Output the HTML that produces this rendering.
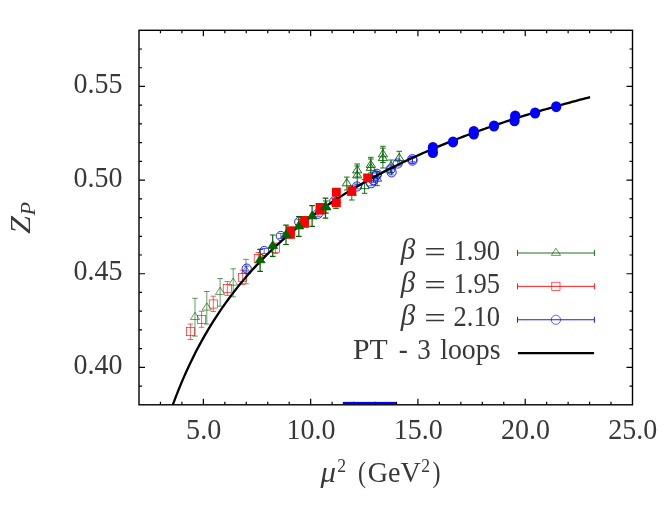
<!DOCTYPE html>
<html><head><meta charset="utf-8"><title>Z_P</title>
<style>
html,body{margin:0;padding:0;background:#fff;overflow:hidden;}
svg{display:block;will-change:transform;}
text{font-family:"Liberation Serif",serif;fill:#383838;}
</style></head>
<body>
<svg width="671" height="506" viewBox="0 0 671 506">
<rect width="671" height="506" fill="#fff"/>
<g>
<path d="M195.0,298.3V336.1M192.2,298.3H197.8M192.2,336.1H197.8" stroke="#006400" stroke-width="0.62" fill="none"/>
<path d="M195.0,312.3L199.6,319.5H190.4Z" fill="none" stroke="#006400" stroke-width="0.62"/>
<path d="M206.8,291.5V324.1M204.0,291.5H209.6M204.0,324.1H209.6" stroke="#006400" stroke-width="0.62" fill="none"/>
<path d="M206.8,302.9L211.4,310.1H202.2Z" fill="none" stroke="#006400" stroke-width="0.62"/>
<path d="M220.1,278.5V306.2M217.3,278.5H222.9M217.3,306.2H222.9" stroke="#006400" stroke-width="0.62" fill="none"/>
<path d="M220.1,287.2L224.7,294.4H215.5Z" fill="none" stroke="#006400" stroke-width="0.62"/>
<path d="M233.2,268.8V296.9M230.4,268.8H236.0M230.4,296.9H236.0" stroke="#006400" stroke-width="0.62" fill="none"/>
<path d="M233.2,278.0L237.8,285.2H228.6Z" fill="none" stroke="#006400" stroke-width="0.62"/>
<path d="M246.0,259.4V283.8M243.2,259.4H248.8M243.2,283.8H248.8" stroke="#006400" stroke-width="0.62" fill="none"/>
<path d="M246.0,266.2L250.6,273.4H241.4Z" fill="none" stroke="#006400" stroke-width="0.62"/>
<path d="M336.0,192.5V208.5M333.2,192.5H338.8M333.2,208.5H338.8" stroke="#006400" stroke-width="0.9" fill="none"/>
<path d="M336.0,195.7L340.6,202.9H331.4Z" fill="none" stroke="#006400" stroke-width="0.9"/>
<path d="M346.8,177.1V190.0M344.0,177.1H349.6M344.0,190.0H349.6" stroke="#006400" stroke-width="0.9" fill="none"/>
<path d="M346.8,178.6L351.4,185.8H342.2Z" fill="none" stroke="#006400" stroke-width="0.9"/>
<path d="M351.8,186.0V200.0M349.0,186.0H354.6M349.0,200.0H354.6" stroke="#006400" stroke-width="0.9" fill="none"/>
<path d="M351.8,188.2L356.4,195.4H347.2Z" fill="none" stroke="#006400" stroke-width="0.9"/>
<path d="M357.2,164.0V177.0M354.4,164.0H360.0M354.4,177.0H360.0" stroke="#006400" stroke-width="0.9" fill="none"/>
<path d="M357.2,165.7L361.8,172.9H352.6Z" fill="none" stroke="#006400" stroke-width="0.9"/>
<path d="M357.2,166.0V185.0M354.4,166.0H360.0M354.4,185.0H360.0" stroke="#006400" stroke-width="0.9" fill="none"/>
<path d="M357.2,170.7L361.8,177.9H352.6Z" fill="none" stroke="#006400" stroke-width="0.9"/>
<path d="M364.6,179.5V193.3M361.8,179.5H367.4M361.8,193.3H367.4" stroke="#006400" stroke-width="0.9" fill="none"/>
<path d="M364.6,181.5L369.2,188.7H360.0Z" fill="none" stroke="#006400" stroke-width="0.9"/>
<path d="M370.8,157.3V173.0M368.0,157.3H373.6M368.0,173.0H373.6" stroke="#006400" stroke-width="0.9" fill="none"/>
<path d="M370.8,160.2L375.4,167.4H366.2Z" fill="none" stroke="#006400" stroke-width="0.9"/>
<path d="M370.8,159.0V176.5M368.0,159.0H373.6M368.0,176.5H373.6" stroke="#006400" stroke-width="0.9" fill="none"/>
<path d="M370.8,163.2L375.4,170.4H366.2Z" fill="none" stroke="#006400" stroke-width="0.9"/>
<path d="M377.1,172.0V185.7M374.3,172.0H379.9M374.3,185.7H379.9" stroke="#006400" stroke-width="0.9" fill="none"/>
<path d="M377.1,174.0L381.7,181.2H372.5Z" fill="none" stroke="#006400" stroke-width="0.9"/>
<path d="M382.9,148.2V168.0M380.1,148.2H385.7M380.1,168.0H385.7" stroke="#006400" stroke-width="0.9" fill="none"/>
<path d="M382.9,153.4L387.5,160.6H378.3Z" fill="none" stroke="#006400" stroke-width="0.9"/>
<path d="M382.9,146.3V162.5M380.1,146.3H385.7M380.1,162.5H385.7" stroke="#006400" stroke-width="0.9" fill="none"/>
<path d="M382.9,149.6L387.5,156.8H378.3Z" fill="none" stroke="#006400" stroke-width="0.9"/>
<path d="M391.0,160.0V172.5M388.2,160.0H393.8M388.2,172.5H393.8" stroke="#006400" stroke-width="0.9" fill="none"/>
<path d="M391.0,161.5L395.6,168.7H386.4Z" fill="none" stroke="#006400" stroke-width="0.9"/>
<path d="M399.2,151.3V165.0M396.4,151.3H402.0M396.4,165.0H402.0" stroke="#006400" stroke-width="0.9" fill="none"/>
<path d="M399.2,153.4L403.8,160.6H394.6Z" fill="none" stroke="#006400" stroke-width="0.9"/>
<path d="M190.4,324.0V339.5M187.6,324.0H193.2M187.6,339.5H193.2" stroke="#ff0000" stroke-width="0.62" fill="none"/>
<rect x="186.3" y="327.5" width="8.2" height="8.2" fill="none" stroke="#ff0000" stroke-width="0.62"/>
<path d="M201.6,311.3V327.3M198.8,311.3H204.4M198.8,327.3H204.4" stroke="#ff0000" stroke-width="0.62" fill="none"/>
<rect x="197.5" y="315.3" width="8.2" height="8.2" fill="none" stroke="#ff0000" stroke-width="0.62"/>
<path d="M213.3,296.2V311.5M210.5,296.2H216.1M210.5,311.5H216.1" stroke="#ff0000" stroke-width="0.62" fill="none"/>
<rect x="209.2" y="299.9" width="8.2" height="8.2" fill="none" stroke="#ff0000" stroke-width="0.62"/>
<path d="M227.3,281.5V295.4M224.5,281.5H230.1M224.5,295.4H230.1" stroke="#ff0000" stroke-width="0.62" fill="none"/>
<rect x="223.2" y="284.4" width="8.2" height="8.2" fill="none" stroke="#ff0000" stroke-width="0.62"/>
<path d="M242.6,270.3V284.4M239.8,270.3H245.4M239.8,284.4H245.4" stroke="#ff0000" stroke-width="0.62" fill="none"/>
<rect x="238.5" y="273.3" width="8.2" height="8.2" fill="none" stroke="#ff0000" stroke-width="0.62"/>
<path d="M258.3,252.5V264.5M255.5,252.5H261.1M255.5,264.5H261.1" stroke="#ff0000" stroke-width="0.62" fill="none"/>
<rect x="254.2" y="254.4" width="8.2" height="8.2" fill="none" stroke="#ff0000" stroke-width="0.62"/>
<path d="M275.4,243.0V253.5M272.6,243.0H278.2M272.6,253.5H278.2" stroke="#ff0000" stroke-width="0.62" fill="none"/>
<rect x="271.3" y="244.1" width="8.2" height="8.2" fill="none" stroke="#ff0000" stroke-width="0.62"/>
<path d="M246.7,266.1V271.1M243.9,266.1H249.5M243.9,271.1H249.5" stroke="#0000ff" stroke-width="0.62" fill="none"/>
<circle cx="246.7" cy="268.6" r="4.6" fill="none" stroke="#0000ff" stroke-width="0.85"/>
<path d="M264.2,248.5V253.5M261.4,248.5H267.0M261.4,253.5H267.0" stroke="#0000ff" stroke-width="0.62" fill="none"/>
<circle cx="264.2" cy="251.0" r="4.6" fill="none" stroke="#0000ff" stroke-width="0.85"/>
<path d="M280.8,233.5V238.5M278.0,233.5H283.6M278.0,238.5H283.6" stroke="#0000ff" stroke-width="0.62" fill="none"/>
<circle cx="280.8" cy="236.0" r="4.6" fill="none" stroke="#0000ff" stroke-width="0.85"/>
<path d="M299.2,219.4V224.4M296.4,219.4H302.0M296.4,224.4H302.0" stroke="#0000ff" stroke-width="0.62" fill="none"/>
<circle cx="299.2" cy="221.9" r="4.6" fill="none" stroke="#0000ff" stroke-width="0.85"/>
<path d="M317.9,211.3V216.3M315.1,211.3H320.7M315.1,216.3H320.7" stroke="#0000ff" stroke-width="0.62" fill="none"/>
<circle cx="317.9" cy="213.8" r="4.6" fill="none" stroke="#0000ff" stroke-width="0.85"/>
<path d="M334.2,198.9V203.9M331.4,198.9H337.0M331.4,203.9H337.0" stroke="#0000ff" stroke-width="0.62" fill="none"/>
<circle cx="334.2" cy="201.4" r="4.6" fill="none" stroke="#0000ff" stroke-width="0.85"/>
<path d="M357.0,184.0V189.0M354.2,184.0H359.8M354.2,189.0H359.8" stroke="#0000ff" stroke-width="0.62" fill="none"/>
<circle cx="357.0" cy="186.5" r="4.6" fill="none" stroke="#0000ff" stroke-width="0.85"/>
<path d="M371.2,180.7V185.7M368.4,180.7H374.0M368.4,185.7H374.0" stroke="#0000ff" stroke-width="0.62" fill="none"/>
<circle cx="371.2" cy="183.2" r="4.6" fill="none" stroke="#0000ff" stroke-width="0.85"/>
<path d="M373.5,177.6V182.6M370.7,177.6H376.3M370.7,182.6H376.3" stroke="#0000ff" stroke-width="0.62" fill="none"/>
<circle cx="373.5" cy="180.1" r="4.6" fill="none" stroke="#0000ff" stroke-width="0.85"/>
<path d="M376.4,173.1V178.1M373.6,173.1H379.2M373.6,178.1H379.2" stroke="#0000ff" stroke-width="0.62" fill="none"/>
<circle cx="376.4" cy="175.6" r="4.6" fill="none" stroke="#0000ff" stroke-width="0.85"/>
<path d="M377.0,171.3V176.3M374.2,171.3H379.8M374.2,176.3H379.8" stroke="#0000ff" stroke-width="0.62" fill="none"/>
<circle cx="377.0" cy="173.8" r="4.6" fill="none" stroke="#0000ff" stroke-width="0.85"/>
<path d="M391.6,169.9V174.9M388.8,169.9H394.4M388.8,174.9H394.4" stroke="#0000ff" stroke-width="0.62" fill="none"/>
<circle cx="391.6" cy="172.4" r="4.6" fill="none" stroke="#0000ff" stroke-width="0.85"/>
<path d="M390.5,166.9V171.9M387.7,166.9H393.3M387.7,171.9H393.3" stroke="#0000ff" stroke-width="0.62" fill="none"/>
<circle cx="390.5" cy="169.4" r="4.6" fill="none" stroke="#0000ff" stroke-width="0.85"/>
<path d="M397.7,161.0V166.0M394.9,161.0H400.5M394.9,166.0H400.5" stroke="#0000ff" stroke-width="0.62" fill="none"/>
<circle cx="397.7" cy="163.5" r="4.6" fill="none" stroke="#0000ff" stroke-width="0.85"/>
<path d="M412.3,156.7V161.7M409.5,156.7H415.1M409.5,161.7H415.1" stroke="#0000ff" stroke-width="0.62" fill="none"/>
<circle cx="412.3" cy="159.2" r="4.6" fill="none" stroke="#0000ff" stroke-width="0.85"/>
<path d="M412.5,158.1V163.1M409.7,158.1H415.3M409.7,163.1H415.3" stroke="#0000ff" stroke-width="0.62" fill="none"/>
<circle cx="412.5" cy="160.6" r="4.6" fill="none" stroke="#0000ff" stroke-width="0.85"/>
<path d="M172.81,404.80 L173.81,402.09 L176.28,395.59 L178.74,389.36 L181.20,383.36 L183.67,377.59 L186.13,372.03 L188.59,366.66 L191.06,361.47 L193.52,356.46 L195.98,351.60 L198.45,346.90 L200.91,342.34 L203.37,337.91 L205.84,333.62 L208.30,329.44 L210.76,325.38 L213.22,321.42 L215.69,317.57 L218.15,313.82 L220.61,310.17 L223.08,306.60 L225.54,303.12 L228.00,299.72 L230.47,296.40 L232.93,293.15 L235.39,289.98 L237.86,286.88 L240.32,283.84 L242.78,280.87 L245.25,277.96 L247.71,275.10 L250.17,272.31 L252.64,269.57 L255.10,266.88 L257.56,264.24 L260.03,261.66 L262.49,259.12 L264.95,256.62 L267.42,254.17 L269.88,251.77 L272.34,249.40 L274.81,247.08 L277.27,244.80 L279.73,242.55 L282.20,240.34 L284.66,238.17 L287.12,236.03 L289.59,233.92 L292.05,231.85 L294.51,229.81 L296.97,227.80 L299.44,225.82 L301.90,223.87 L304.36,221.95 L306.83,220.06 L309.29,218.19 L311.75,216.35 L314.22,214.54 L316.68,212.75 L319.14,210.99 L321.61,209.25 L324.07,207.53 L326.53,205.84 L329.00,204.16 L331.46,202.51 L333.92,200.88 L336.39,199.28 L338.85,197.69 L341.31,196.12 L343.78,194.57 L346.24,193.04 L348.70,191.53 L351.17,190.04 L353.63,188.57 L356.09,187.11 L358.56,185.67 L361.02,184.25 L363.48,182.84 L365.95,181.45 L368.41,180.07 L370.87,178.71 L373.34,177.37 L375.80,176.04 L378.26,174.73 L380.72,173.43 L383.19,172.14 L385.65,170.87 L388.11,169.61 L390.58,168.36 L393.04,167.13 L395.50,165.91 L397.97,164.70 L400.43,163.51 L402.89,162.32 L405.36,161.15 L407.82,159.99 L410.28,158.85 L412.75,157.71 L415.21,156.59 L417.67,155.47 L420.14,154.37 L422.60,153.28 L425.06,152.19 L427.53,151.12 L429.99,150.06 L432.45,149.01 L434.92,147.97 L437.38,146.93 L439.84,145.91 L442.31,144.90 L444.77,143.89 L447.23,142.90 L449.70,141.91 L452.16,140.93 L454.62,139.97 L457.09,139.01 L459.55,138.05 L462.01,137.11 L464.47,136.17 L466.94,135.25 L469.40,134.33 L471.86,133.42 L474.33,132.51 L476.79,131.62 L479.25,130.73 L481.72,129.85 L484.18,128.97 L486.64,128.11 L489.11,127.25 L491.57,126.40 L494.03,125.55 L496.50,124.71 L498.96,123.88 L501.42,123.05 L503.89,122.24 L506.35,121.42 L508.81,120.62 L511.28,119.82 L513.74,119.03 L516.20,118.24 L518.67,117.46 L521.13,116.68 L523.59,115.91 L526.06,115.15 L528.52,114.39 L530.98,113.64 L533.45,112.90 L535.91,112.16 L538.37,111.42 L540.84,110.69 L543.30,109.97 L545.76,109.25 L548.22,108.54 L550.69,107.83 L553.15,107.13 L555.61,106.43 L558.08,105.74 L560.54,105.05 L563.00,104.37 L565.47,103.69 L567.93,103.02 L570.39,102.35 L572.86,101.69 L575.32,101.03 L577.78,100.37 L580.25,99.72 L582.71,99.08 L585.17,98.44 L587.64,97.80 L590.10,97.17" fill="none" stroke="#000" stroke-width="2.3" stroke-linejoin="round"/>
<ellipse cx="432.9" cy="147.4" rx="5.15" ry="5.5" fill="#0000ff"/>
<ellipse cx="432.9" cy="152.6" rx="5.15" ry="5.5" fill="#0000ff"/>
<ellipse cx="453.0" cy="141.9" rx="5.15" ry="5.5" fill="#0000ff"/>
<ellipse cx="473.8" cy="131.5" rx="5.15" ry="5.5" fill="#0000ff"/>
<ellipse cx="473.8" cy="134.1" rx="5.15" ry="5.5" fill="#0000ff"/>
<ellipse cx="494.0" cy="126.0" rx="5.15" ry="5.5" fill="#0000ff"/>
<ellipse cx="515.2" cy="115.9" rx="5.15" ry="5.5" fill="#0000ff"/>
<ellipse cx="514.5" cy="120.8" rx="5.15" ry="5.5" fill="#0000ff"/>
<ellipse cx="535.1" cy="113.0" rx="5.15" ry="5.5" fill="#0000ff"/>
<ellipse cx="556.2" cy="106.7" rx="5.15" ry="5.5" fill="#0000ff"/>
<rect x="286.0" y="226.3" width="8.8" height="8.8" fill="#ff0000"/>
<rect x="286.0" y="230.0" width="8.8" height="8.8" fill="#ff0000"/>
<rect x="300.1" y="216.0" width="8.8" height="8.8" fill="#ff0000"/>
<rect x="300.1" y="219.0" width="8.8" height="8.8" fill="#ff0000"/>
<rect x="315.6" y="203.0" width="8.8" height="8.8" fill="#ff0000"/>
<rect x="315.9" y="205.8" width="8.8" height="8.8" fill="#ff0000"/>
<rect x="332.0" y="187.8" width="8.8" height="8.8" fill="#ff0000"/>
<rect x="332.0" y="198.4" width="8.8" height="8.8" fill="#ff0000"/>
<rect x="347.4" y="186.4" width="8.8" height="8.8" fill="#ff0000"/>
<rect x="363.2" y="173.5" width="8.8" height="8.8" fill="#ff0000"/>
<path d="M260.1,249.4V271.3M257.3,249.4H262.9M257.3,271.3H262.9" stroke="#006400" stroke-width="1.2" fill="none"/>
<path d="M260.1,255.0L265.1,262.8H255.1Z" fill="#006400" stroke="#006400" stroke-width="0.8"/>
<path d="M272.7,235.0V256.3M269.9,235.0H275.5M269.9,256.3H275.5" stroke="#006400" stroke-width="1.2" fill="none"/>
<path d="M272.7,240.8L277.7,248.6H267.7Z" fill="#006400" stroke="#006400" stroke-width="0.8"/>
<path d="M286.0,225.1V244.5M283.2,225.1H288.8M283.2,244.5H288.8" stroke="#006400" stroke-width="1.2" fill="none"/>
<path d="M286.0,229.8L291.0,237.6H281.0Z" fill="#006400" stroke="#006400" stroke-width="0.8"/>
<path d="M298.8,216.5V236.3M296.0,216.5H301.6M296.0,236.3H301.6" stroke="#006400" stroke-width="1.2" fill="none"/>
<path d="M298.8,221.1L303.8,228.9H293.8Z" fill="#006400" stroke="#006400" stroke-width="0.8"/>
<path d="M312.1,205.6V226.3M309.3,205.6H314.9M309.3,226.3H314.9" stroke="#006400" stroke-width="1.2" fill="none"/>
<path d="M312.1,211.1L317.1,218.9H307.1Z" fill="#006400" stroke="#006400" stroke-width="0.8"/>
<path d="M325.5,198.1V218.2M322.7,198.1H328.3M322.7,218.2H328.3" stroke="#006400" stroke-width="1.2" fill="none"/>
<path d="M325.5,201.8L330.5,209.6H320.5Z" fill="#006400" stroke="#006400" stroke-width="0.8"/>
<path d="M325.9,201.0V213.2M323.1,201.0H328.7M323.1,213.2H328.7" stroke="#006400" stroke-width="1.2" fill="none"/>
<path d="M325.9,202.0L330.9,209.8H320.9Z" fill="#006400" stroke="#006400" stroke-width="0.8"/>
</g>
<g>
<path d="M160.46,404.8v-3.0M160.46,30.3v3.0M181.91,404.8v-3.0M181.91,30.3v3.0M203.37,404.8v-6.0M203.37,30.3v6.0M224.83,404.8v-3.0M224.83,30.3v3.0M246.28,404.8v-3.0M246.28,30.3v3.0M267.74,404.8v-3.0M267.74,30.3v3.0M289.20,404.8v-3.0M289.20,30.3v3.0M310.65,404.8v-6.0M310.65,30.3v6.0M332.11,404.8v-3.0M332.11,30.3v3.0M353.57,404.8v-3.0M353.57,30.3v3.0M375.02,404.8v-3.0M375.02,30.3v3.0M396.48,404.8v-3.0M396.48,30.3v3.0M417.93,404.8v-6.0M417.93,30.3v6.0M439.39,404.8v-3.0M439.39,30.3v3.0M460.85,404.8v-3.0M460.85,30.3v3.0M482.30,404.8v-3.0M482.30,30.3v3.0M503.76,404.8v-3.0M503.76,30.3v3.0M525.22,404.8v-6.0M525.22,30.3v6.0M546.67,404.8v-3.0M546.67,30.3v3.0M568.13,404.8v-3.0M568.13,30.3v3.0M589.59,404.8v-3.0M589.59,30.3v3.0M611.04,404.8v-3.0M611.04,30.3v3.0M139.0,386.07h3.0M632.5,386.07h-3.0M139.0,367.35h6.0M632.5,367.35h-6.0M139.0,348.62h3.0M632.5,348.62h-3.0M139.0,329.90h3.0M632.5,329.90h-3.0M139.0,311.18h3.0M632.5,311.18h-3.0M139.0,292.45h3.0M632.5,292.45h-3.0M139.0,273.73h6.0M632.5,273.73h-6.0M139.0,255.00h3.0M632.5,255.00h-3.0M139.0,236.28h3.0M632.5,236.28h-3.0M139.0,217.55h3.0M632.5,217.55h-3.0M139.0,198.83h3.0M632.5,198.83h-3.0M139.0,180.10h6.0M632.5,180.10h-6.0M139.0,161.38h3.0M632.5,161.38h-3.0M139.0,142.65h3.0M632.5,142.65h-3.0M139.0,123.92h3.0M632.5,123.92h-3.0M139.0,105.20h3.0M632.5,105.20h-3.0M139.0,86.47h6.0M632.5,86.47h-6.0M139.0,67.75h3.0M632.5,67.75h-3.0M139.0,49.02h3.0M632.5,49.02h-3.0" stroke="#000" stroke-width="1.2" fill="none"/><rect x="342.8" y="401.9" width="53.6" height="2.3" fill="#0000ff"/><rect x="139.0" y="30.3" width="493.5" height="374.5" fill="none" stroke="#000" stroke-width="1.4"/>
</g>
<g>
<text x="73.6" y="93.0" font-size="29.3" text-anchor="start" textLength="49.0" lengthAdjust="spacingAndGlyphs">0.55</text>
<text x="73.6" y="186.6" font-size="29.3" text-anchor="start" textLength="49.0" lengthAdjust="spacingAndGlyphs">0.50</text>
<text x="73.6" y="280.2" font-size="29.3" text-anchor="start" textLength="49.0" lengthAdjust="spacingAndGlyphs">0.45</text>
<text x="73.6" y="373.8" font-size="29.3" text-anchor="start" textLength="49.0" lengthAdjust="spacingAndGlyphs">0.40</text>
<text x="186.1" y="439.2" font-size="29.3" text-anchor="start" textLength="35.2" lengthAdjust="spacingAndGlyphs">5.0</text>
<text x="286.5" y="439.2" font-size="29.3" text-anchor="start" textLength="49.0" lengthAdjust="spacingAndGlyphs">10.0</text>
<text x="393.7" y="439.2" font-size="29.3" text-anchor="start" textLength="49.0" lengthAdjust="spacingAndGlyphs">15.0</text>
<text x="501.0" y="439.2" font-size="29.3" text-anchor="start" textLength="49.0" lengthAdjust="spacingAndGlyphs">20.0</text>
<text x="608.3" y="439.2" font-size="29.3" text-anchor="start" textLength="49.0" lengthAdjust="spacingAndGlyphs">25.0</text>
<text x="320.5" y="482.3" font-size="29.3" text-anchor="start" textLength="15.5" lengthAdjust="spacingAndGlyphs" font-style="italic">μ</text>
<text x="337.2" y="472.3" font-size="18.4" text-anchor="start" textLength="8.8" lengthAdjust="spacingAndGlyphs">2</text>
<text x="358.0" y="482.3" font-size="29.3" text-anchor="start" textLength="8.0" lengthAdjust="spacingAndGlyphs">(</text>
<text x="367.8" y="482.3" font-size="29.3" text-anchor="start" textLength="53.0" lengthAdjust="spacingAndGlyphs">GeV</text>
<text x="421.3" y="472.3" font-size="18.4" text-anchor="start" textLength="8.8" lengthAdjust="spacingAndGlyphs">2</text>
<text x="432.5" y="482.3" font-size="29.3" text-anchor="start" textLength="8.0" lengthAdjust="spacingAndGlyphs">)</text>
<g transform="translate(30.0,234) rotate(-90)"><text x="0.0" y="0.0" font-size="29.3" text-anchor="start" textLength="18.0" lengthAdjust="spacingAndGlyphs" font-style="italic">Z</text><text x="18.6" y="5.3" font-size="21.5" text-anchor="start" textLength="13.5" lengthAdjust="spacingAndGlyphs" font-style="italic">P</text></g>
<text x="400.8" y="258.7" font-size="29.3" text-anchor="start" textLength="14.5" lengthAdjust="spacingAndGlyphs" font-style="italic">β</text>
<text x="424.2" y="262.0" font-size="29.3" text-anchor="start" textLength="21.6" lengthAdjust="spacingAndGlyphs">=</text>
<text x="453.5" y="259.5" font-size="29.3" text-anchor="start" textLength="46.5" lengthAdjust="spacingAndGlyphs">1.90</text>
<text x="400.8" y="291.9" font-size="29.3" text-anchor="start" textLength="14.5" lengthAdjust="spacingAndGlyphs" font-style="italic">β</text>
<text x="424.2" y="295.2" font-size="29.3" text-anchor="start" textLength="21.6" lengthAdjust="spacingAndGlyphs">=</text>
<text x="453.5" y="292.7" font-size="29.3" text-anchor="start" textLength="46.5" lengthAdjust="spacingAndGlyphs">1.95</text>
<text x="400.8" y="325.1" font-size="29.3" text-anchor="start" textLength="14.5" lengthAdjust="spacingAndGlyphs" font-style="italic">β</text>
<text x="424.2" y="328.4" font-size="29.3" text-anchor="start" textLength="21.6" lengthAdjust="spacingAndGlyphs">=</text>
<text x="453.5" y="325.9" font-size="29.3" text-anchor="start" textLength="46.5" lengthAdjust="spacingAndGlyphs">2.10</text>
<text x="353.0" y="359.1" font-size="29.3" text-anchor="start" textLength="34.8" lengthAdjust="spacingAndGlyphs">PT</text>
<text x="398.8" y="359.1" font-size="29.3" text-anchor="start" textLength="9.0" lengthAdjust="spacingAndGlyphs">-</text>
<text x="417.3" y="359.1" font-size="29.3" text-anchor="start" textLength="13.5" lengthAdjust="spacingAndGlyphs">3</text>
<text x="440.2" y="359.1" font-size="29.3" text-anchor="start" textLength="60.3" lengthAdjust="spacingAndGlyphs">loops</text>
</g>
<g>
<path d="M517.5,253.0H594.4M517.5,250.0v6M594.4,250.0v6" stroke="#006400" stroke-width="0.9" fill="none"/>
<path d="M555.9,248.2L560.5,255.4H551.3Z" fill="none" stroke="#006400" stroke-width="0.62"/>
<path d="M517.5,286.35H594.4M517.5,283.35v6M594.4,283.35v6" stroke="#ff0000" stroke-width="0.9" fill="none"/>
<rect x="551.8" y="282.2" width="8.2" height="8.2" fill="none" stroke="#ff0000" stroke-width="0.62"/>
<path d="M517.5,319.75H594.4M517.5,316.75v6M594.4,316.75v6" stroke="#0000ff" stroke-width="0.9" fill="none"/>
<circle cx="555.9" cy="319.8" r="4.6" fill="none" stroke="#0000ff" stroke-width="0.62"/>
<path d="M517.9,353.15H594.1" stroke="#000" stroke-width="2.3"/>
</g>
</svg>
</body></html>
